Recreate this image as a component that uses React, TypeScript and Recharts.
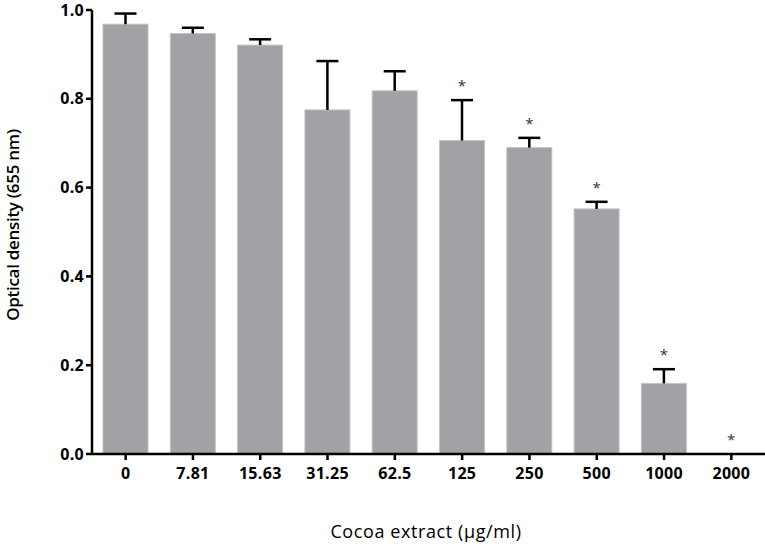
import { Bar, BarChart, LabelList, XAxis, YAxis } from "recharts";

const doses = ["0", "7.81", "15.63", "31.25", "62.5", "125", "250", "500", "1000", "2000"];
const means = [0.968, 0.947, 0.921, 0.775, 0.818, 0.706, 0.69, 0.552, 0.159, 0];
const sds = [0.024, 0.013, 0.013, 0.11, 0.044, 0.091, 0.022, 0.016, 0.032, 0];
const marks = ["", "", "", "", "", "*", "*", "*", "*", "*"];
const yTicks = [0, 0.2, 0.4, 0.6, 0.8, 1.0];

const data = doses.map((dose, i) => ({ dose, mean: means[i], sd: sds[i], mark: marks[i] }));

const FONT = "'Open Sans', sans-serif";

// bar + one-sided whisker, scaled from the bar's own height
function BarWithWhisker(props: any) {
  const { x, y, width, payload } = props;
  const height = Math.abs(props.height);
  if (!height) return null;
  const cx = x + width / 2;
  const top = y - (payload.sd * height) / payload.mean;
  return (
    <g>
      <rect x={x} y={y} width={width} height={height} fill="#a2a1a6" stroke="#c3c2c6" strokeWidth={1} />
      {payload.sd > 0 && (
        <>
          <line x1={cx} y1={y} x2={cx} y2={top} stroke="#000" strokeWidth={2.5} />
          <line x1={cx - 11} y1={top} x2={cx + 11} y2={top} stroke="#000" strokeWidth={2.5} />
        </>
      )}
    </g>
  );
}

function Star(props: any) {
  const { value, index } = props;
  if (!value) return null;
  const vb = props.viewBox ?? props;
  const x = vb.x ?? props.x;
  const y = vb.y ?? props.y;
  const width = vb.width ?? props.width;
  const height = Math.abs(vb.height ?? props.height ?? 0);
  const mean = means[index];
  const top = mean > 0 ? y - (sds[index] * height) / mean : y;
  return (
    <text x={x + width / 2} y={top - 9} textAnchor="middle" fontSize={15} fill="#333" fontFamily={FONT}>
      {value}
    </text>
  );
}

const YTitle = () => (
  <text
    transform="translate(19, 225) rotate(-90)"
    textAnchor="middle"
    fontSize={17}
    fontWeight={600}
    letterSpacing={-0.3}
    fill="#000"
    fontFamily={FONT}
  >
    Optical density (655 nm)
  </text>
);

const XTitle = () => (
  <text
    x={426}
    y={538}
    textAnchor="middle"
    fontSize={18}
    letterSpacing={0.6}
    fill="#000"
    fontFamily={FONT}
  >
    Cocoa extract (µg/ml)
  </text>
);

export default function App() {
  const axisStroke = { stroke: "#000", strokeWidth: 2.5 };
  const tickStyle = { fill: "#000", fontSize: 16, fontWeight: 700, fontFamily: FONT, letterSpacing: 0.3 };
  return (
    <div style={{ position: "absolute", left: 0, top: 0, background: "#fff", fontFamily: FONT }}>
      <BarChart width={765} height={546} data={data} margin={{ top: 10, right: 0, left: 0, bottom: 0 }}>
        <XAxis
          dataKey="dose"
          height={92}
          axisLine={axisStroke}
          tickLine={axisStroke}
          tickSize={6}
          tickMargin={8}
          tick={tickStyle}
          interval={0}
          label={<XTitle />}
        />
        <YAxis
          width={92}
          domain={[0, 1]}
          ticks={yTicks}
          tickFormatter={(v: number) => v.toFixed(1)}
          axisLine={axisStroke}
          tickLine={axisStroke}
          tickSize={6}
          tickMargin={2}
          tick={tickStyle}
          label={<YTitle />}
        />
        <Bar dataKey="mean" barSize={45} shape={<BarWithWhisker />} isAnimationActive={false}>
          <LabelList dataKey="mark" content={<Star />} />
        </Bar>
      </BarChart>
    </div>
  );
}
